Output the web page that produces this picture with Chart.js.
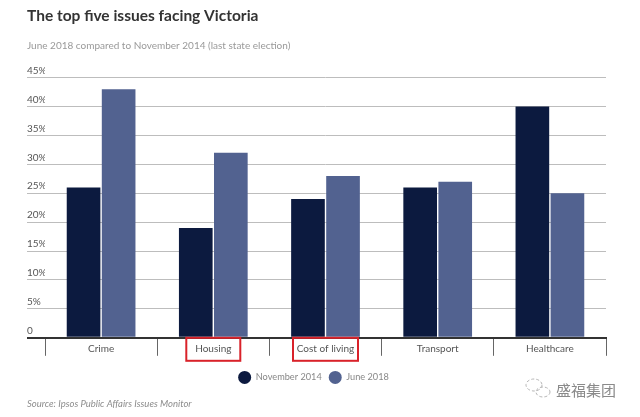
<!DOCTYPE html>
<html>
<head>
<meta charset="utf-8">
<script src="https://cdn.jsdelivr.net/npm/chart.js@4/dist/chart.umd.min.js"></script>
<style>
html, body { margin: 0; padding: 0; background: #fff; }
canvas { display: block; }
</style>
</head>
<body>
<canvas id="issuesChart" width="640" height="417"></canvas>
<script>
const categories = ['Crime', 'Housing', 'Cost of living', 'Transport', 'Healthcare'];
const november2014 = [26, 19, 24, 26, 40];
const june2018 = [43, 32, 28, 27, 25];
const highlighted = { 'Housing': 54, 'Cost of living': 65 };

const FONT = 'Lato, sans-serif';

// red boxes, source line and watermark are not part of the chart proper
const extras = {
    id: 'extras',
    afterLayout(chart) {
        // legend sits a little left of the centre in the original
        chart.legend.left -= 3;
        chart.legend.right -= 3;
    },
    afterDraw(chart) {
        const { ctx } = chart;
        const x = chart.scales.x;
        const y0 = chart.scales.y.getPixelForValue(0);
        ctx.save();

        ctx.strokeStyle = '#d9222a';
        ctx.lineWidth = 2;
        categories.forEach((name, i) => {
            if (!highlighted[name]) return;
            const w = highlighted[name];
            ctx.strokeRect(x.getPixelForValue(i) - w / 2, y0, w, 23);
        });

        ctx.fillStyle = '#8c8c8c';
        ctx.font = `italic 9.5px ${FONT}`;
        ctx.textBaseline = 'middle';
        ctx.fillText('Source: Ipsos Public Affairs Issues Monitor', 27, 404);

        ctx.fillStyle = '#8a8a8a';
        ctx.font = '15px "Noto Sans CJK SC"';
        ctx.fillText('盛福集团', 556, 390);

        ctx.strokeStyle = '#b5b5b5';
        ctx.lineWidth = 1;
        ctx.setLineDash([3, 2]);
        ctx.beginPath();
        ctx.ellipse(534, 385, 8, 6, 0, 0, Math.PI * 2);
        ctx.stroke();
        ctx.beginPath();
        ctx.ellipse(543, 392, 7, 5, 0, 0, Math.PI * 2);
        ctx.stroke();
        ctx.restore();
    }
};

new Chart(document.getElementById('issuesChart'), {
    type: 'bar',
    data: {
        labels: categories,
        datasets: [
            {
                label: 'November 2014',
                data: november2014,
                backgroundColor: '#0c1a3f'
            },
            {
                label: 'June 2018',
                data: june2018,
                backgroundColor: '#526290'
            }
        ]
    },
    options: {
        responsive: false,
        animation: false,
        categoryPercentage: 0.625,
        barPercentage: 0.96,
        layout: { padding: { left: 27, right: 34, top: 7, bottom: 25 } },
        scales: {
            x: {
                afterFit(scale) { scale.height = 28; },
                grid: {
                    offset: true,
                    drawOnChartArea: false,
                    tickLength: 18,
                    tickColor: '#666',
                    tickWidth: 1
                },
                border: { color: '#333', width: 2 },
                ticks: {
                    autoSkip: false,
                    padding: -13,
                    color: '#555',
                    font: { family: FONT, size: 10 },
                    maxRotation: 0
                }
            },
            y: {
                min: 0,
                max: 45,
                afterFit(scale) { scale.width = 18; },
                grid: {
                    tickLength: 18,
                    color: ctx => ctx.tick.value === 0 ? '#333' : '#bdbdbd',
                    tickColor: ctx => ctx.tick.value === 0 ? '#333' : '#bdbdbd',
                    lineWidth: ctx => ctx.tick.value === 0 ? 2 : 1
                },
                border: { display: false },
                ticks: {
                    stepSize: 5,
                    crossAlign: 'far',
                    labelOffset: -7,
                    padding: 0,
                    color: '#555',
                    font: { family: FONT, size: 10 },
                    callback: v => v === 0 ? '0' : v + '%'
                }
            }
        },
        plugins: {
            title: {
                display: true,
                text: 'The top five issues facing Victoria',
                align: 'start',
                color: '#333',
                font: { family: FONT, size: 15.5, weight: 'bold' },
                padding: { top: 0, bottom: 14 }
            },
            subtitle: {
                display: true,
                text: 'June 2018 compared to November 2014 (last state election)',
                align: 'start',
                color: '#999',
                font: { family: FONT, size: 10, weight: 'normal' },
                padding: { top: 0, bottom: 26 }
            },
            legend: {
                position: 'bottom',
                labels: {
                    usePointStyle: true,
                    pointStyle: 'circle',
                    pointStyleWidth: 13,
                    boxHeight: 11,
                    color: '#888',
                    padding: 7,
                    font: { family: FONT, size: 9.2 }
                }
            },
            tooltip: { enabled: false }
        }
    },
    plugins: [extras]
});
</script>
</body>
</html>
